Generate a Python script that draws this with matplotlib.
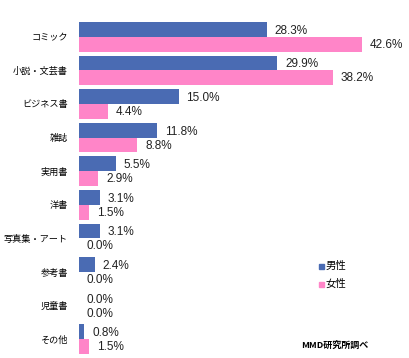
import matplotlib
matplotlib.use("Agg")
import matplotlib.pyplot as plt
import numpy as np

plt.rcParams['font.family'] = ['Liberation Sans', 'Noto Sans CJK JP', 'DejaVu Sans']

categories = ["コミック", "小説・文芸書", "ビジネス書", "雑誌", "実用書", "洋書",
              "写真集・アート", "参考書", "児童書", "その他"]
male = [28.3, 29.9, 15.0, 11.8, 5.5, 3.1, 3.1, 2.4, 0.0, 0.8]
female = [42.6, 38.2, 4.4, 8.8, 2.9, 1.5, 0.0, 0.0, 0.0, 1.5]
series_names = ["男性", "女性"]
colors = ["#4A6BB3", "#FF85C8"]

fig = plt.figure(figsize=(4.10, 3.58), dpi=100)
ax = fig.add_axes([79 / 410, 2 / 358, 300 / 410, 336 / 358])

y = np.arange(len(categories))
h = 0.44
ax.barh(y - h / 2, male, height=h, color=colors[0])
ax.barh(y + h / 2, female, height=h, color=colors[1])

for i in range(len(categories)):
    ax.text(male[i] + 1.2, y[i] - h / 2 + 0.04, f"{male[i]:.1f}%", va='center', ha='left',
            fontsize=8.5, color='#222222')
    ax.text(female[i] + 1.2, y[i] + h / 2 + 0.02, f"{female[i]:.1f}%", va='center', ha='left',
            fontsize=8.5, color='#222222')

ax.set_xlim(0, 45.2)
ax.set_ylim(len(categories) - 0.5, -0.5)
ax.set_yticks(y)
ax.set_yticklabels(categories, fontsize=6.6, family=['Noto Sans CJK JP', 'DejaVu Sans'])
ax.tick_params(axis='y', length=0, pad=8)
ax.set_xticks([])
for s in ax.spines.values():
    s.set_visible(False)

# legend drawn as small squares + text
for k, name in enumerate(series_names):
    yy = 1 - (266 + 18 * k) / 358
    fig.patches.append(plt.Rectangle((319 / 410, yy - 2.5 / 358), 5 / 410, 5 / 358,
                                     transform=fig.transFigure, color=colors[k]))
    fig.text(326 / 410, yy, name, fontsize=7.5, va='center', ha='left',
             family=['Noto Sans CJK JP', 'DejaVu Sans'])

fig.text(301 / 410, 1 - 345 / 358, "MMD研究所調べ", fontsize=6.5, va='center', ha='left',
         fontweight='bold', family=['Noto Sans CJK JP', 'DejaVu Sans'])

fig.savefig("out.png", dpi=100)
